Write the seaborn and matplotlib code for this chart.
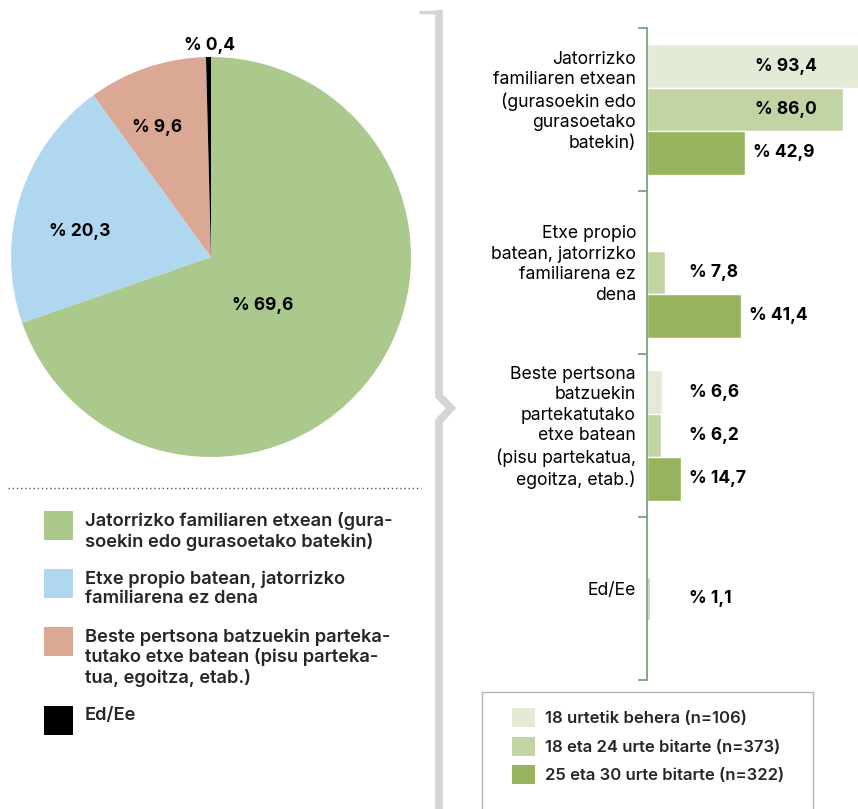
import pandas as pd
import matplotlib.pyplot as plt
import seaborn as sns
from matplotlib.patches import Rectangle, Patch
from matplotlib.lines import Line2D
from matplotlib import transforms

# -------------------------------
# Data
# -------------------------------
pie_labels = ['Jatorrizko familiaren etxean (gura-\nsoekin edo gurasoetako batekin)',
              'Etxe propio batean, jatorrizko\nfamiliarena ez dena',
              'Beste pertsona batzuekin parteka-\ntutako etxe batean (pisu parteka-\ntua, egoitza, etab.)',
              'Ed/Ee']
pie_values = [69.6, 20.3, 9.6, 0.4]
pie_colors = ['#abc98c', '#afd7ef', '#dba895', '#000000']

bar_categories = ['Jatorrizko\nfamiliaren etxean\n(gurasoekin edo\ngurasoetako\nbatekin)',
                  'Etxe propio\nbatean, jatorrizko\nfamiliarena ez\ndena',
                  'Beste pertsona\nbatzuekin\npartekatutako\netxe batean\n(pisu partekatua,\negoitza, etab.)',
                  'Ed/Ee']
age_groups = ['18 urtetik behera (n=106)',
              '18 eta 24 urte bitarte (n=373)',
              '25 eta 30 urte bitarte (n=322)']
under_18 = [93.4, 0.0, 6.6, 0.0]
age_18_24 = [86.0, 7.8, 6.2, 1.1]
age_25_30 = [42.9, 41.4, 14.7, 0.0]
bar_colors = ['#e3ebd7', '#c3d4a4', '#98b35d']

df = pd.DataFrame({
    'category': bar_categories * 3,
    'group': [g for g in age_groups for _ in bar_categories],
    'value': under_18 + age_18_24 + age_25_30,
})

# -------------------------------
# Figure
# -------------------------------
sns.set_theme(style='white')
plt.rcParams['font.family'] = ['Inter', 'DejaVu Sans']

W, H = 858, 809
fig = plt.figure(figsize=(W / 100, H / 100), dpi=100)


def fx(x):
    return x / W


def fy(y):
    return 1 - y / H


# pie
ax_pie = fig.add_axes([fx(11), fy(457), 400 / W, 400 / H])
ax_pie.pie(pie_values, colors=pie_colors, startangle=90, counterclock=False,
           wedgeprops=dict(edgecolor='none'))
ax_pie.set_xlim(-1, 1)
ax_pie.set_ylim(-1, 1)
ax_pie.set_aspect('auto')
pie_text_pos = [(0.26, -0.24), (-0.655, 0.13), (-0.27, 0.645), (-0.005, 1.06)]
for v, (px, py) in zip(pie_values, pie_text_pos):
    ax_pie.text(px, py, '% ' + f'{v:.1f}'.replace('.', ','), ha='center', va='center',
                fontsize=12.5, fontweight='bold', color='black', clip_on=False)

# pie legend (drawn by hand)
fig.add_artist(Line2D([fx(8), fx(421)], [fy(488), fy(488)], color='#555555',
                      lw=1, linestyle=(0, (1, 2))))
row_top = 511
for label, color in zip(pie_labels, pie_colors):
    fig.add_artist(Rectangle((fx(44), fy(row_top + 29)), 29 / W, 29 / H,
                             facecolor=color, edgecolor='none'))
    fig.text(fx(85), fy(row_top + 1), label, ha='left', va='top', fontsize=13.2,
             fontweight='semibold', linespacing=1.18)
    row_top += 21 * (label.count('\n') + 1) + 16

# brace between the two panels
brace = '#d4d4d4'
fig.add_artist(Line2D([fx(419), fx(439)], [fy(11.5), fy(11.5)], color=brace, lw=2.5,
                      solid_capstyle='butt'))
fig.add_artist(Line2D([fx(439), fx(439), fx(451), fx(439), fx(439)],
                      [fy(10), fy(396), fy(408), fy(421), fy(812)],
                      color=brace, lw=5.5, solid_joinstyle='miter', solid_capstyle='butt'))

# bars
ax = fig.add_axes([fx(647), fy(680), (W - 647) / W, 652 / H])
sns.barplot(data=df, y='category', x='value', hue='group', palette=bar_colors,
            orient='h', saturation=1, legend=False, ax=ax)
ax.set_xlim(0, (W - 647) / 2.28)
ax.set_ylim(len(bar_categories) - 0.5, -0.5)
ax.set_xlabel('')
ax.set_ylabel('')
ax.set_xticks([])
ax.set_yticks([i - 0.5 for i in range(len(bar_categories) + 1)])
ax.set_yticklabels([])
axis_green = '#7aa27c'
ax.tick_params(axis='y', length=6.5, width=1.3, color=axis_green, direction='out', left=True)
for s in ['top', 'right', 'bottom']:
    ax.spines[s].set_visible(False)
ax.spines['left'].set_color(axis_green)
ax.spines['left'].set_linewidth(1.3)
ax.patch.set_alpha(0)

for container in ax.containers:
    for bar in container:
        v = bar.get_width()
        if v <= 0:
            continue
        x = 47.5 if v > 50 else max(v + 3.5, 18.5)
        ax.text(x, bar.get_y() + bar.get_height() / 2, '% ' + f'{v:.1f}'.replace('.', ','),
                ha='left', va='center', fontsize=12.5, fontweight='bold', color='black')

trans = transforms.blended_transform_factory(ax.transAxes, ax.transData)
for i, cat in enumerate(bar_categories):
    ax.text(-11 / (W - 647), i - 0.05, cat, transform=trans, ha='right', va='center',
            fontsize=12.7, color='black', linespacing=1.27, clip_on=False)

# bar legend
fig.add_artist(Rectangle((fx(482), fy(815)), (813 - 482) / W, (815 - 692) / H,
                         facecolor='none', edgecolor='#b5b5b5', lw=1))
handles = [Patch(facecolor=c, edgecolor='none') for c in bar_colors]
fig.legend(handles, age_groups, loc='upper left', bbox_to_anchor=(fx(512), fy(708)),
           frameon=False, prop={'weight': 'semibold', 'size': 12},
           handlelength=1.38, handleheight=1.38, handletextpad=0.6, labelspacing=0.57,
           borderpad=0, borderaxespad=0)

fig.savefig('out.png', dpi=100)
